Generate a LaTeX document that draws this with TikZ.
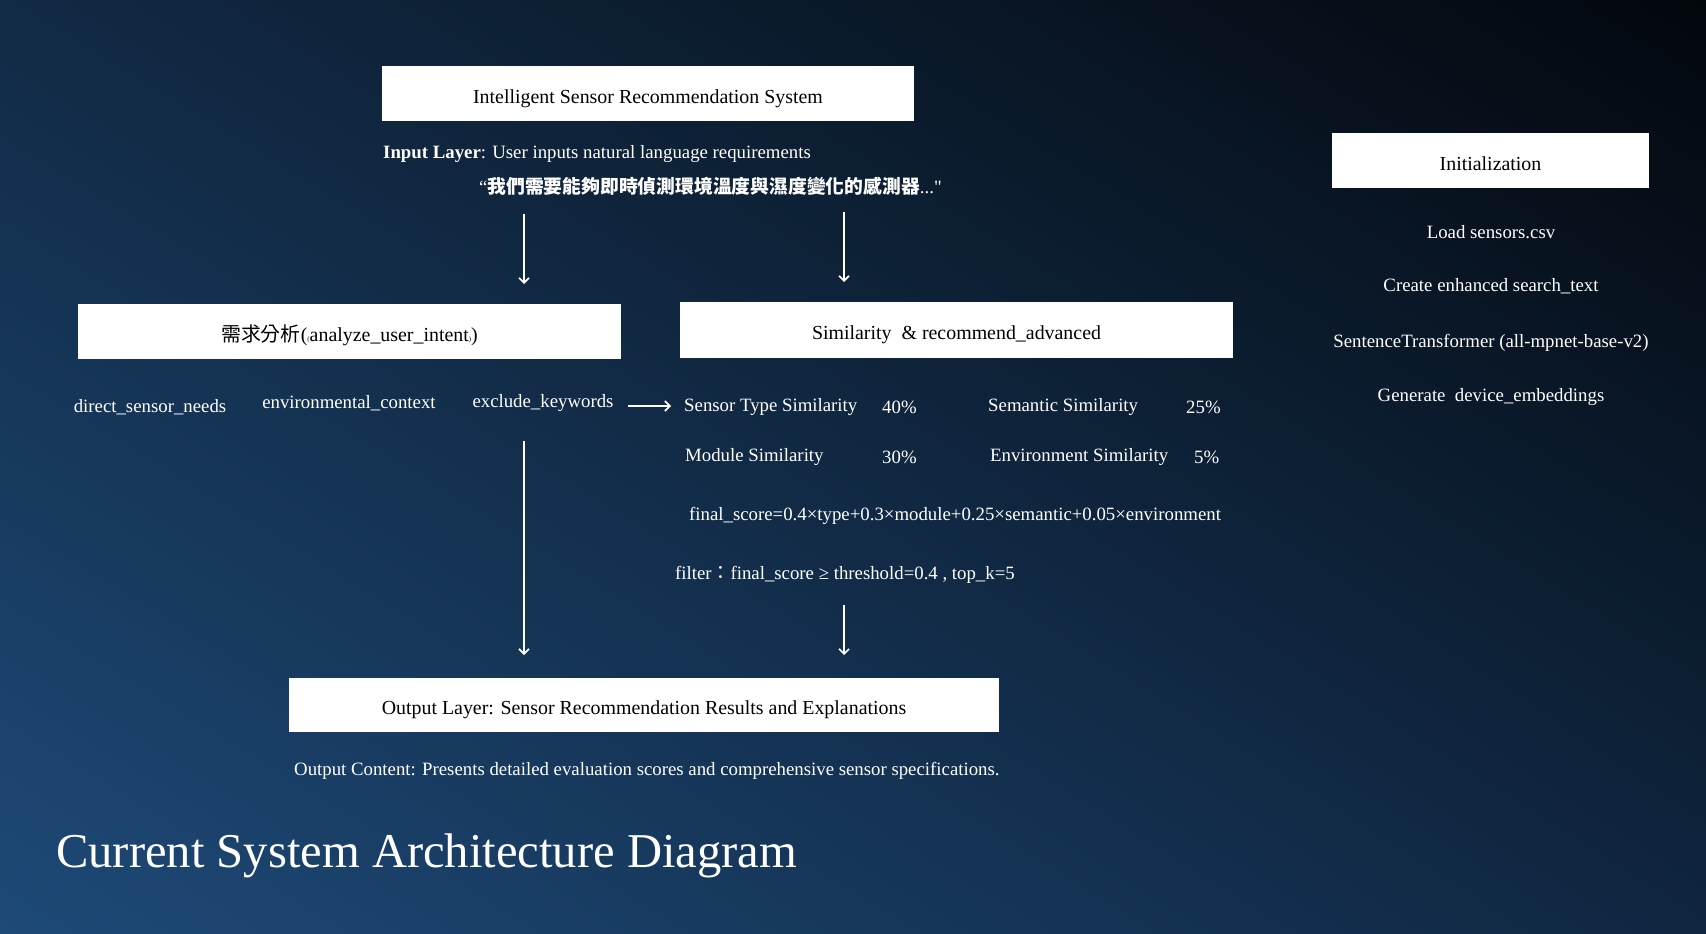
\documentclass[tikz,border=0pt]{standalone}
\usepackage{fontspec}
\setmainfont{Liberation Serif}
\newfontfamily\cjk{Noto Sans CJK TC}
\newfontfamily\qfont[Ligatures=ResetAll]{Liberation Serif}
\usetikzlibrary{arrows.meta,shadings}
\definecolor{bgTL}{HTML}{112A45}
\definecolor{bgTR}{HTML}{03070C}
\definecolor{bgBL}{HTML}{1E4A78}
\definecolor{bgBR}{HTML}{0F2640}
\tikzset{
  whitebox/.style={draw=none,fill=white,text=black,inner sep=0pt,text height=23pt,text depth=4pt,font=\fontsize{19.9}{23}\selectfont},
  wtext/.style={text=white,inner sep=0pt,font=\fontsize{18.8}{22}\selectfont},
  arr/.style={draw=white,line width=1.6pt,-{Straight Barb[length=5pt,width=10pt]}}
}
\begin{document}
\begin{tikzpicture}[x=1pt,y=-1pt]
\shade[upper left=bgTL,upper right=bgTR,lower left=bgBL,lower right=bgBR] (0,0) rectangle (1706,934);
\useasboundingbox (0,0) rectangle (1706,934);

% top box
\node[whitebox,minimum width=532pt,minimum height=55pt] (sys) at (648,93.5) {Intelligent Sensor Recommendation System};
\node[wtext,anchor=west] (inp) at (383,154) {\textbf{Input Layer}: User inputs natural language requirements};
\node[wtext,anchor=west] (quote) at (479,186) {“{\cjk\bfseries 我們需要能夠即時偵測環境溫度與濕度變化的感測器}...{\qfont "}};

% second row boxes
\node[whitebox,minimum width=543pt,minimum height=55pt] (intent) at (349.5,331.5) {{\cjk 需求分析}({\scriptsize(}analyze\_user\_intent{\scriptsize)})};
\node[whitebox,minimum width=553pt,minimum height=56pt] (sim) at (956.5,330) {Similarity\ \ \& recommend\_advanced};

% init column
\node[whitebox,minimum width=317pt,minimum height=55pt] (init) at (1490.5,160.5) {Initialization};
\node[wtext] (load) at (1491,232) {Load sensors.csv};
\node[wtext] (create) at (1491,286) {Create enhanced search\_text};
\node[wtext] (st) at (1491,343) {SentenceTransformer (all-mpnet-base-v2)};
\node[wtext] (gen) at (1491,397) {Generate\ \ device\_embeddings};

% intent outputs
\node[wtext] (dsn) at (150,407) {direct\_sensor\_needs};
\node[wtext] (env) at (349,403) {environmental\_context};
\node[wtext] (excl) at (543,403) {exclude\_keywords};

% similarity details
\node[wtext,anchor=west] (stype) at (684,407) {Sensor Type Similarity};
\node[wtext,anchor=west] (p40) at (882,407) {40\%};
\node[wtext,anchor=west] (sem) at (988,407) {Semantic Similarity};
\node[wtext,anchor=west] (p25) at (1186,407) {25\%};
\node[wtext,anchor=west] (mod) at (685,457) {Module Similarity};
\node[wtext,anchor=west] (p30) at (882,457) {30\%};
\node[wtext,anchor=west] (envs) at (990,457) {Environment Similarity};
\node[wtext,anchor=west] (p5) at (1194,457) {5\%};
\node[wtext,anchor=west] (fs) at (689,516) {final\_score=0.4×type+0.3×module+0.25×semantic+0.05×environment};
\node[wtext,anchor=west] (flt) at (675,575) {filter{\cjk ：}final\_score ≥ threshold=0.4 , top\_k=5};

% output
\node[whitebox,minimum width=710pt,minimum height=54pt] (out) at (644,705) {Output Layer: Sensor Recommendation Results and Explanations};
\node[wtext,anchor=west] (outc) at (294,771) {Output Content: Presents detailed evaluation scores and comprehensive sensor specifications.};

\node[text=white,inner sep=0pt,anchor=west,font=\fontsize{48.6}{56}\selectfont] (title) at (56,856) {Current System Architecture Diagram};

% arrow endpoints
\coordinate (a1s) at (524,214); \coordinate (a1e) at (524,284);
\coordinate (a2s) at (844,212); \coordinate (a2e) at (844,282);
\coordinate (a3s) at (628,406); \coordinate (a3e) at (671,406);
\coordinate (a4s) at (524,441); \coordinate (a4e) at (524,655);
\coordinate (a5s) at (844,605); \coordinate (a5e) at (844,655);
\draw[arr] (a1s) -- (a1e);
\draw[arr] (a2s) -- (a2e);
\draw[arr] (a3s) -- (a3e);
\draw[arr] (a4s) -- (a4e);
\draw[arr] (a5s) -- (a5e);
\end{tikzpicture}
\end{document}
